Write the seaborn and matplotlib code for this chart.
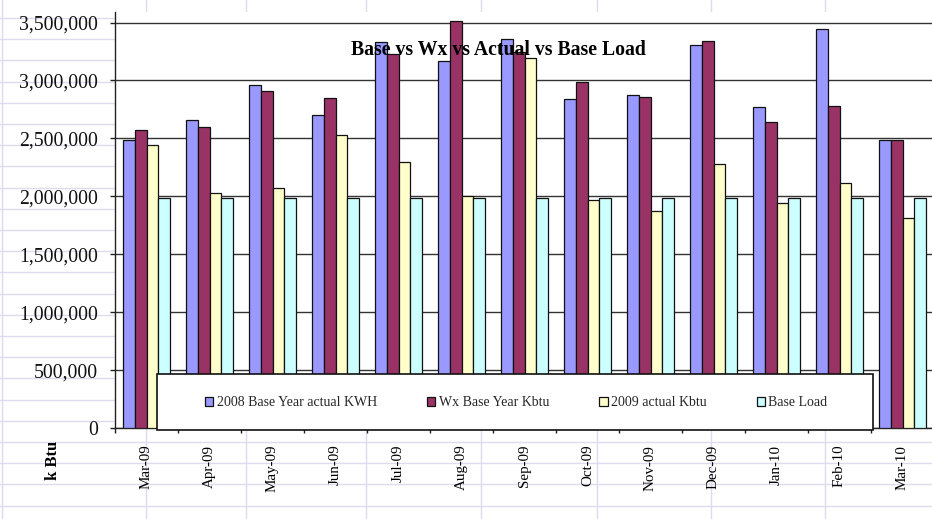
import numpy as np
import pandas as pd
import matplotlib
matplotlib.use("Agg")
import matplotlib.pyplot as plt
from matplotlib.patches import Patch, Rectangle
from matplotlib.lines import Line2D
from matplotlib.ticker import FuncFormatter
import seaborn as sns

# ---- data ----
months = ["Mar-09", "Apr-09", "May-09", "Jun-09", "Jul-09", "Aug-09", "Sep-09",
          "Oct-09", "Nov-09", "Dec-09", "Jan-10", "Feb-10", "Mar-10"]
series_names = ["2008 Base Year actual KWH", "Wx Base Year Kbtu",
                "2009 actual Kbtu", "Base Load"]
base_2008 = [2485000, 2660000, 2963000, 2700000, 3330000, 3172000, 3360000,
             2839000, 2877000, 3310000, 2770000, 3446000, 2485000]
wx_base = [2570000, 2600000, 2905000, 2848000, 3230000, 3510000, 3244000,
           2990000, 2856000, 3339000, 2641000, 2782000, 2485000]
actual_2009 = [2440000, 2030000, 2075000, 2526000, 2300000, 2000000, 3190000,
               1966000, 1871000, 2279000, 1946000, 2118000, 1816000]
base_load = [1982000] * 13
colors = ["#9999FF", "#993366", "#FFFFCC", "#CCFFFF"]
title = "Base vs Wx vs Actual vs Base Load"
y_label = "k Btu"

df = pd.DataFrame({
    "month": np.tile(months, 4),
    "series": np.repeat(series_names, len(months)),
    "value": np.concatenate([base_2008, wx_base, actual_2009, base_load]),
})

# ---- styling ----
sns.set_theme(style="white")
plt.rcParams["font.family"] = ["Liberation Serif", "DejaVu Serif"]

W, H = 932, 519
fig = plt.figure(figsize=(W / 100, H / 100), dpi=100)
fig.patch.set_facecolor("white")

# spreadsheet cell grid behind the chart
sheet_color = "#dcdcee"
for k in range(25):
    yy = 18 + 21.2 * k
    fig.lines.append(Line2D([0, 1], [1 - yy / H, 1 - yy / H], transform=fig.transFigure,
                            color=sheet_color, lw=1.0, zorder=-5))
for xx in [2, 146, 246, 366, 481, 597, 711, 825]:
    fig.lines.append(Line2D([xx / W, xx / W], [0, 1], transform=fig.transFigure,
                            color=sheet_color, lw=1.0, zorder=-5))

# plot area
left, right, top, bottom = 115, 934, 11.5, 428
ax = fig.add_axes([left / W, 1 - bottom / H, (right - left) / W, (bottom - top) / H])
ax.set_facecolor("white")

sns.barplot(data=df, x="month", y="value", hue="series", order=months,
            hue_order=series_names, palette=colors, saturation=1, width=0.75,
            edgecolor="#111111", linewidth=0.9, legend=False, ax=ax, zorder=3)

ax.set_xlim(-0.5, len(months) - 0.5)
ax.set_ylim(0, 3595000)
ax.set_yticks(np.arange(0, 3500001, 500000))
ax.yaxis.set_major_formatter(FuncFormatter(lambda v, p: f"{int(v):,}"))
ax.yaxis.grid(True, color="#333333", lw=1.0, zorder=0)
ax.set_axisbelow(True)
ax.set_xlabel("")
ax.set_ylabel("")

for s in ["top", "right"]:
    ax.spines[s].set_visible(False)
for s in ["left", "bottom"]:
    ax.spines[s].set_color("#222222")
    ax.spines[s].set_linewidth(1.0)

ax.set_xticks(np.arange(-0.5, len(months), 1), minor=True)
ax.tick_params(axis="x", which="major", length=0, pad=12, labelsize=10.8,
               labelrotation=90, labelcolor="black")
ax.tick_params(axis="x", which="minor", length=3.6, width=1, direction="out",
               color="#222222", bottom=True)
ax.tick_params(axis="y", which="major", length=3.6, width=1, direction="out",
               color="#222222", pad=8.5, labelsize=14.2, labelcolor="#111111", left=True)

# title over the bars
fig.text(498 / W, 1 - 50 / H, title, ha="center", va="center", fontsize=14.2,
         fontweight="bold", color="black", zorder=10)

# axis caption below the value labels
fig.text(53 / W, 1 - 460 / H, y_label, rotation=90, ha="center", va="center",
         fontsize=12, fontweight="bold", color="black")

# legend box
fig.patches.append(Rectangle((157 / W, 1 - 430 / H), (873 - 157) / W, (430 - 374) / H,
                             transform=fig.transFigure, facecolor="white",
                             edgecolor="#111111", lw=1.2, zorder=4))
handles = [Patch(facecolor=c, edgecolor="#111111", lw=0.9) for c in colors]
leg = fig.legend(handles, series_names, loc="center left",
                 bbox_to_anchor=(205 / W, 1 - 403 / H), ncol=4, frameon=False,
                 fontsize=10, handlelength=0.6, handleheight=0.6,
                 handletextpad=0.25, columnspacing=3.6, borderpad=0,
                 borderaxespad=0)
leg.set_zorder(6)

fig.savefig("out.png", dpi=100, facecolor="white")
